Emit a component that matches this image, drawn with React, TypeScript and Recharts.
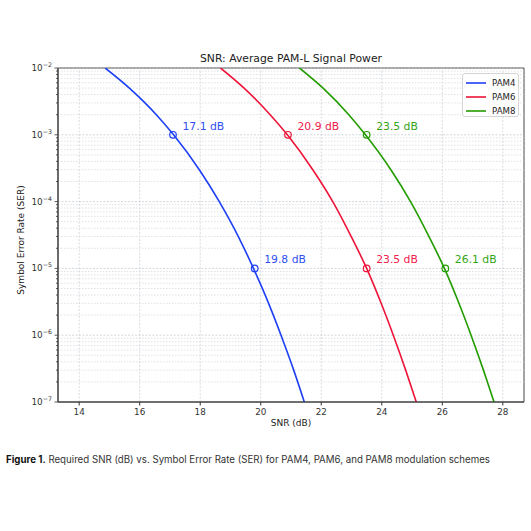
import React from 'react';
import {
  ComposedChart,
  Line,
  XAxis,
  YAxis,
  ReferenceLine,
  ReferenceDot,
  ReferenceArea,
} from 'recharts';

// SER levels the curves were read at, and the SNR (dB) each curve needs there
const serLevels = [1e-2, 5e-3, 2e-3, 1e-3, 3e-4, 1e-4, 3e-5, 1e-5, 3e-6, 1e-6, 3e-7, 1e-7];
const snrPam4 = [14.86, 15.66, 16.55, 17.12, 17.97, 18.63, 19.26, 19.76, 20.26, 20.67, 21.09, 21.44];
const snrPam6 = [18.67, 19.45, 20.31, 20.88, 21.72, 22.38, 22.99, 23.5, 23.98, 24.38, 24.79, 25.14];
const snrPam8 = [21.28, 22.06, 22.91, 23.46, 24.3, 24.95, 25.56, 26.07, 26.55, 26.95, 27.36, 27.71];

// annotated targets
const markerSer = [1e-3, 1e-5];
const markersPam4 = [17.1, 19.8];
const markersPam6 = [20.9, 23.5];
const markersPam8 = [23.5, 26.1];

const xTicks = [14, 16, 18, 20, 22, 24, 26, 28];
const yMajorTicks = [1e-7, 1e-6, 1e-5, 1e-4, 1e-3, 1e-2];
const minorMultipliers = [2, 3, 4, 5, 6, 7, 8, 9];
const yMinorTicks = yMajorTicks.slice(0, -1).flatMap((d) => minorMultipliers.map((m) => m * d));

const series = [
  { name: 'PAM4', snr: snrPam4, markers: markersPam4, color: '#1d3ff5', text: '#2f4ff0' },
  { name: 'PAM6', snr: snrPam6, markers: markersPam6, color: '#ee1439', text: '#f0204c' },
  { name: 'PAM8', snr: snrPam8, markers: markersPam8, color: '#239c00', text: '#33a514' },
];

const FONT = '"DejaVu Sans", sans-serif';
const W = 531;
const CH = 440;
const PLOT_LEFT = 58;
const PLOT_TOP = 68;

const isMajor = (v: number) => {
  const e = Math.round(Math.log10(v));
  return Math.abs(v - Math.pow(10, e)) / v < 1e-6;
};

const YTick = (props: any) => {
  const { y, payload } = props;
  const v = payload.value;
  const major = isMajor(v);
  const e = Math.round(Math.log10(v));
  return (
    <g>
      <line x1={PLOT_LEFT - (major ? 3.5 : 2)} x2={PLOT_LEFT} y1={y} y2={y} stroke="#333" strokeWidth={0.8} />
      {major && (
        <text x={PLOT_LEFT - 6} y={y + 3} textAnchor="end" fontFamily={FONT} fontSize={8.8} fill="#333">
          10
          <tspan dy={-4} fontSize={6.3}>{`\u2212${-e}`}</tspan>
        </text>
      )}
    </g>
  );
};

const markerLabel = (text: string, color: string) => (props: any) => {
  const vb = props.viewBox || {};
  const cx = vb.x + vb.width / 2;
  const cy = vb.y + vb.height / 2;
  return (
    <text x={cx + 9.5} y={cy - 5.3} fontFamily={FONT} fontSize={10.8} fill={color}>
      {text}
    </text>
  );
};

export default function App() {
  return (
    <div style={{ position: 'absolute', left: 0, top: 0, width: W, height: W, background: '#fff' }}>
      <div
        style={{
          position: 'absolute', left: 0, width: 582, top: 52, textAlign: 'center',
          fontFamily: FONT, fontSize: 10.8, color: '#222',
        }}
      >
        SNR: Average PAM-L Signal Power
      </div>
      <ComposedChart
        width={W}
        height={CH}
        margin={{ top: PLOT_TOP, right: 7, bottom: 8, left: 0 }}
        style={{ position: 'absolute', left: 0, top: 0 }}
      >
        <XAxis
          type="number"
          dataKey="snr"
          domain={[13.3, 28.7]}
          allowDataOverflow
          ticks={xTicks}
          height={30}
          tickSize={3.5}
          tickMargin={3}
          stroke="#333"
          tick={{ fontFamily: FONT, fontSize: 8.8, fill: '#333' }}
        />
        <YAxis
          type="number"
          dataKey="ser"
          scale="log"
          domain={[1e-7, 1e-2]}
          allowDataOverflow
          ticks={[...yMajorTicks, ...yMinorTicks]}
          interval={0}
          width={PLOT_LEFT}
          tickLine={false}
          stroke="#333"
          tick={<YTick />}
        />
        {xTicks.map((t) => (
          <ReferenceLine key={'vx' + t} x={t} stroke="#c9cdd2" strokeWidth={0.7} strokeDasharray="2 1.5" />
        ))}
        {yMinorTicks.map((t) => (
          <ReferenceLine key={'mn' + t} y={t} stroke="#cbcfd3" strokeWidth={0.6} strokeDasharray="1.5 1.5" />
        ))}
        {yMajorTicks.map((t) => (
          <ReferenceLine key={'mj' + t} y={t} stroke="#c2c6ca" strokeWidth={0.7} strokeDasharray="2 1.5" />
        ))}
        {series.map((s) => (
          <Line
            key={s.name}
            data={s.snr.map((x, i) => ({ snr: x, ser: serLevels[i] }))}
            dataKey="ser"
            type="monotone"
            stroke={s.color}
            strokeWidth={1.6}
            dot={false}
            isAnimationActive={false}
          />
        ))}
        {series.map((s) =>
          s.markers.map((m, i) => (
            <ReferenceDot
              key={s.name + m}
              x={m}
              y={markerSer[i]}
              r={3.3}
              fill="none"
              stroke={s.color}
              strokeWidth={1.2}
              label={markerLabel(`${m.toFixed(1)} dB`, s.text)}
            />
          )),
        )}
        <ReferenceArea x1={13.3} x2={28.7} y1={1e-7} y2={1e-2} fill="none" stroke="#333" strokeWidth={0.9} />
      </ComposedChart>
      <div
        style={{
          position: 'absolute', left: 6, top: 250, width: 28, height: 0,
        }}
      >
        <div
          style={{
            position: 'absolute', left: 15, top: -15, transform: 'translate(-50%, 0) rotate(-90deg)',
            whiteSpace: 'nowrap', fontFamily: FONT, fontSize: 9, color: '#222',
          }}
        >
          Symbol Error Rate (SER)
        </div>
      </div>
      <div
        style={{
          position: 'absolute', left: 0, width: 582, top: 418, textAlign: 'center',
          fontFamily: FONT, fontSize: 9, color: '#222',
        }}
      >
        SNR (dB)
      </div>
      <div
        style={{
          position: 'absolute', left: 462, top: 73, width: 57, height: 44,
          border: '1px solid #d6d6d6', borderRadius: 3, background: 'rgba(255,255,255,0.85)',
          boxSizing: 'border-box', padding: '2px 0 0 3px',
        }}
      >
        {series.map((s) => (
          <div key={s.name} style={{ display: 'flex', alignItems: 'center', height: 14 }}>
            <svg width={20} height={4} style={{ marginRight: 6, display: 'block' }}>
              <line x1={0} x2={20} y1={2} y2={2} stroke={s.color} strokeWidth={1.6} />
            </svg>
            <span style={{ fontFamily: FONT, fontSize: 8.6, color: '#222' }}>{s.name}</span>
          </div>
        ))}
      </div>
      <div
        style={{
          position: 'absolute', left: 6, top: 454, whiteSpace: 'nowrap',
          fontFamily: 'Inter, "Noto Sans", sans-serif', fontSize: 9.7, color: '#333',
        }}
      >
        <b style={{ color: '#111' }}>Figure 1.</b> Required SNR (dB) vs. Symbol Error Rate (SER) for PAM4, PAM6, and PAM8 modulation schemes
      </div>
    </div>
  );
}
